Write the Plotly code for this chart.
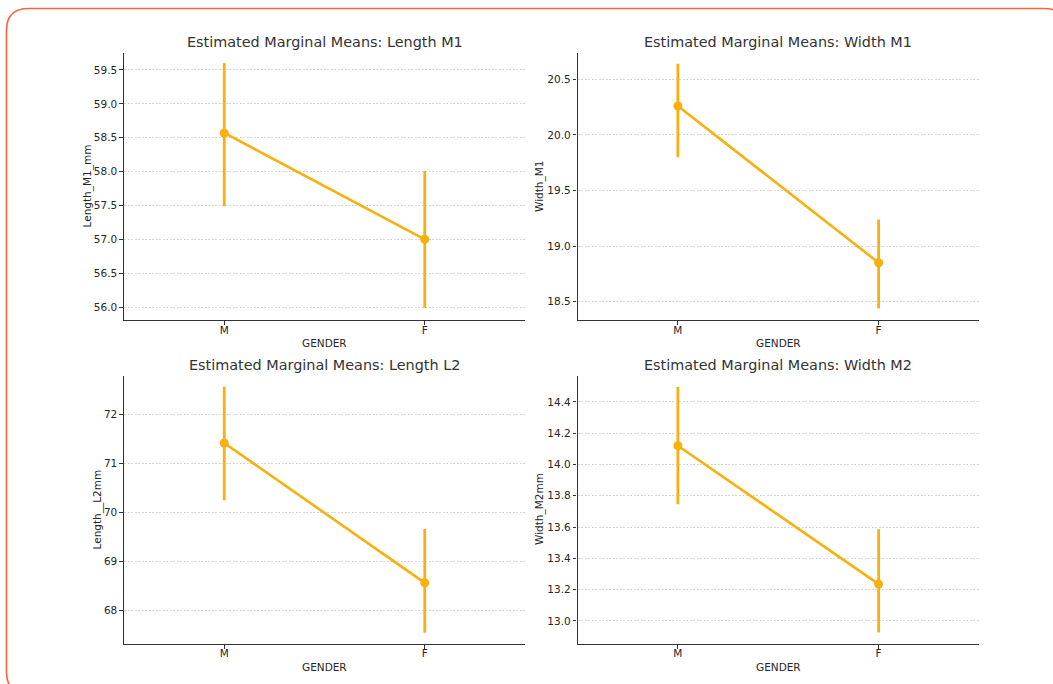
import plotly.graph_objects as go

W, H = 1053, 684

# ---- data ----
genders = ["M", "F"]
titles = [
    "Estimated Marginal Means: Length M1",
    "Estimated Marginal Means: Width M1",
    "Estimated Marginal Means: Length L2",
    "Estimated Marginal Means: Width M2",
]
y_labels = ["Length_M1_mm", "Width_M1", "Length__L2mm", "Width_M2mm"]
x_label = "GENDER"

length_m1_mean = [58.57, 57.00]
length_m1_low = [57.49, 55.99]
length_m1_high = [59.60, 58.01]

width_m1_mean = [20.26, 18.85]
width_m1_low = [19.80, 18.44]
width_m1_high = [20.64, 19.24]

length_l2_mean = [71.42, 68.56]
length_l2_low = [70.25, 67.54]
length_l2_high = [72.57, 69.66]

width_m2_mean = [14.12, 13.235]
width_m2_low = [13.745, 12.925]
width_m2_high = [14.495, 13.586]

panels = [
    (length_m1_mean, length_m1_low, length_m1_high),
    (width_m1_mean, width_m1_low, width_m1_high),
    (length_l2_mean, length_l2_low, length_l2_high),
    (width_m2_mean, width_m2_low, width_m2_high),
]

# ---- layout geometry (pixels) ----
ax_x = [(124, 525), (577.5, 979), (124, 525), (577.5, 979)]
ax_y = [(53, 320), (53, 320), (375.5, 643.5), (375.5, 643.5)]
y_ranges = [(55.81, 59.75), (18.335, 20.737), (67.32, 72.80), (12.855, 14.569)]
y_dticks = [0.5, 0.5, 1, 0.2]
y_fmt = [".1f", ".1f", "d", ".1f"]
ylab_x = [87, 539.5, 97, 539.5]


def px(x):
    return x / W


def py(y):
    return 1 - y / H


ORANGE = "#F9B00D"
TXT = "#262626"
FONT = "DejaVu Sans"

fig = go.Figure()
annotations = []

for i, (mean, low, high) in enumerate(panels):
    n = i + 1
    xa = "x" if n == 1 else f"x{n}"
    ya = "y" if n == 1 else f"y{n}"
    up = [h - m for h, m in zip(high, mean)]
    dn = [m - l for m, l in zip(mean, low)]
    fig.add_trace(go.Scatter(
        x=genders, y=mean, xaxis=xa, yaxis=ya,
        mode="lines+markers",
        line=dict(color=ORANGE, width=2.6),
        marker=dict(color=ORANGE, size=9),
        error_y=dict(type="data", symmetric=False, array=up, arrayminus=dn,
                     color=ORANGE, thickness=2.8, width=0),
        showlegend=False,
    ))
    xkey = "xaxis" if n == 1 else f"xaxis{n}"
    ykey = "yaxis" if n == 1 else f"yaxis{n}"
    x0, x1 = ax_x[i]
    y0, y1 = ax_y[i]
    fig.update_layout(**{
        xkey: dict(
            domain=[px(x0), px(x1)], anchor=ya, type="category",
            range=[-0.5, 1.5], showgrid=False, zeroline=False,
            showline=True, linecolor="#333333", linewidth=1.3,
            ticks="outside", ticklen=4, tickcolor="#333333", tickwidth=1,
            ticklabelstandoff=-4,
            tickfont=dict(family=FONT, size=10.5, color=TXT),
            automargin=False, fixedrange=True,
        ),
        ykey: dict(
            domain=[py(y1), py(y0)], anchor=xa,
            range=list(y_ranges[i]), dtick=y_dticks[i], tick0=0,
            tickformat=y_fmt[i],
            showgrid=True, gridcolor="#d6d6d6", gridwidth=0.8, griddash="2px,1.5px",
            zeroline=False,
            showline=True, linecolor="#333333", linewidth=1.3,
            ticks="outside", ticklen=3.5, tickcolor="#333333", tickwidth=1,
            tickfont=dict(family=FONT, size=10.5, color=TXT),
            automargin=False, fixedrange=True,
        ),
    })
    cx = (x0 + x1) / 2
    annotations.append(dict(
        text=titles[i], x=px(cx), y=py(y0 - 11), xref="paper", yref="paper",
        xanchor="center", yanchor="middle", showarrow=False,
        font=dict(family=FONT, size=14.4, color="#333333"),
    ))
    annotations.append(dict(
        text=x_label, x=px(cx), y=py(y1 + 23), xref="paper", yref="paper",
        xanchor="center", yanchor="middle", showarrow=False,
        font=dict(family=FONT, size=10.5, color=TXT),
    ))
    annotations.append(dict(
        text=y_labels[i], x=px(ylab_x[i]), y=py((y0 + y1) / 2),
        xref="paper", yref="paper", textangle=-90,
        xanchor="center", yanchor="middle", showarrow=False,
        font=dict(family=FONT, size=10.5, color=TXT),
    ))

# rounded frame
L, T, R, B, r = 6.5, 8.5, 1066, 694, 22
path = (
    f"M {px(L + r)},{py(T)} L {px(R - r)},{py(T)} Q {px(R)},{py(T)} {px(R)},{py(T + r)} "
    f"L {px(R)},{py(B - r)} Q {px(R)},{py(B)} {px(R - r)},{py(B)} "
    f"L {px(L + r)},{py(B)} Q {px(L)},{py(B)} {px(L)},{py(B - r)} "
    f"L {px(L)},{py(T + r)} Q {px(L)},{py(T)} {px(L + r)},{py(T)} Z"
)

fig.update_layout(
    width=W, height=H,
    margin=dict(l=0, r=0, t=0, b=0, pad=0),
    paper_bgcolor="white", plot_bgcolor="white",
    annotations=annotations,
    shapes=[dict(type="path", path=path, xref="paper", yref="paper",
                 line=dict(color="#F8643F", width=1.6), layer="above")],
    font=dict(family=FONT, color=TXT),
)

fig.write_html("out.html")
